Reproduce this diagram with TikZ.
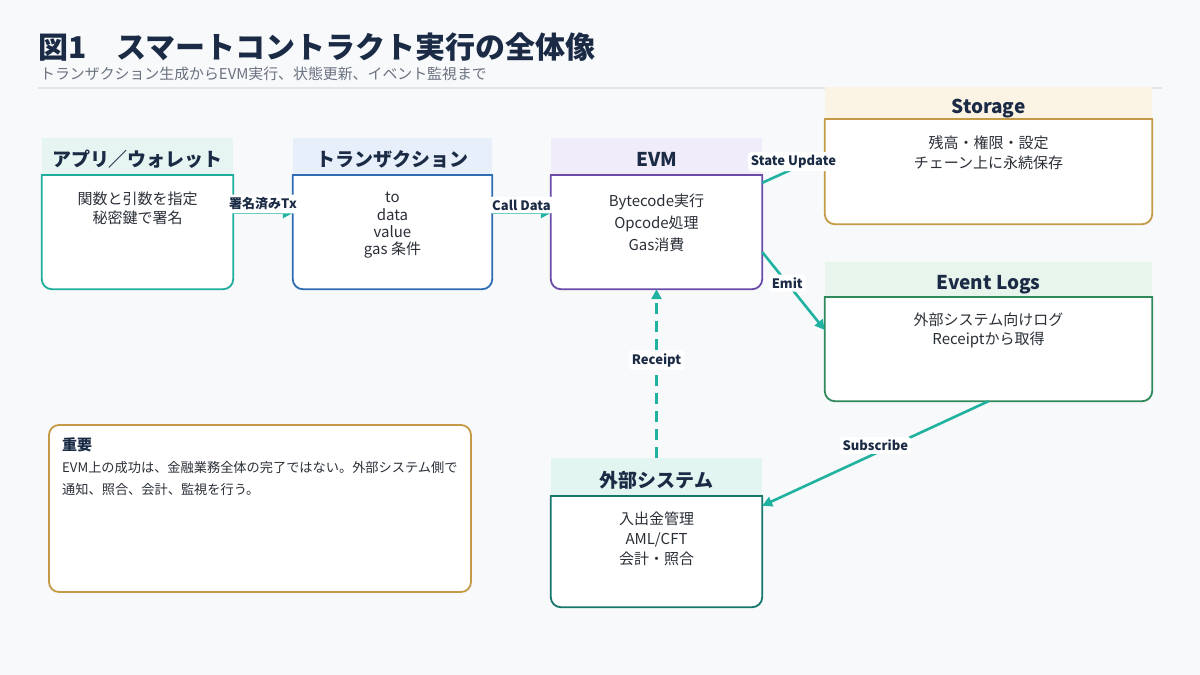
\documentclass[tikz,border=0pt]{standalone}
\usepackage{fontspec}
\setmainfont{Noto Sans CJK JP}
\usepackage{tikz}
\usetikzlibrary{arrows.meta,positioning}
\usepackage{xcolor}
\definecolor{canvas}{HTML}{F7F9FB}
\definecolor{navy}{HTML}{1B2B45}
\definecolor{ink}{HTML}{2A2F37}
\definecolor{muted}{HTML}{6B7280}
\definecolor{rule}{HTML}{E1E5EA}
\definecolor{flow}{HTML}{1FB2A0}
\definecolor{appc}{HTML}{1FAE9C}\definecolor{appbg}{HTML}{E6F5F1}
\definecolor{txc}{HTML}{2F6DB5}\definecolor{txbg}{HTML}{E7F0FA}
\definecolor{evmc}{HTML}{6A4CA8}\definecolor{evmbg}{HTML}{F1ECFA}
\definecolor{gold}{HTML}{C49A47}\definecolor{goldbg}{HTML}{FBF3E4}
\definecolor{logc}{HTML}{2E8A5A}\definecolor{logbg}{HTML}{E8F5EC}
\definecolor{extc}{HTML}{16766C}\definecolor{extbg}{HTML}{E3F5F0}
\newcommand{\fsz}[2]{\fontsize{#1pt}{#2pt}\selectfont}
\newcommand{\cardframe}[2]{\draw[#2,line width=1.8pt,fill=white,rounded corners=10pt] (#1.north west) -- (#1.south west) -- (#1.south east) -- (#1.north east);
\draw[#2,line width=1.8pt,line cap=rect] (#1.north west) -- (#1.north east);}
\tikzset{band/.style={fill=#1,inner sep=0pt,minimum height=37pt,text height=20pt,text depth=0pt,font=\fsz{19}{23}\bfseries,text=navy}, frame/.style={inner sep=0pt,minimum height=114pt}, bodytext/.style={inner sep=0pt,align=center,text=ink}, flowline/.style={draw=flow,line width=2.6pt,-{Triangle[length=10pt,width=10pt]}}, lbl/.style={fill=white,rounded corners=3pt,inner sep=3pt,font=\fsz{13}{15}\bfseries,text=navy}}

\begin{document}
\begin{tikzpicture}[x=1pt,y=-1pt]
\fill[canvas] (0,0) rectangle (1200,675);\useasboundingbox (0,0) rectangle (1200,675);
\node[anchor=west,inner sep=0pt,font=\fsz{30}{35}\bfseries,text=navy] (title) at (38,47) {図1　スマートコントラクト実行の全体像};
\node[anchor=west,inner sep=0pt,font=\fsz{14.9}{18},text=muted] (subtitle) at (40,74) {トランザクション生成からEVM実行、状態更新、イベント監視まで};
\draw[rule,line width=1.2pt] (38,88) -- (1162,88);
% upper row
\node[band=appbg,minimum width=191pt] (apphead) at (137.5,156.5) {アプリ／ウォレット};
\node[frame,minimum width=191pt] (app) at (137.5,232) {};\cardframe{app}{appc}
\node[bodytext,font=\fsz{15}{19},below=16pt of app.north] (apptxt) {\strut 関数と引数を指定\\秘密鍵で署名};
\node[band=txbg,minimum width=199pt] (txhead) at (392.5,156.5) {トランザクション};
\node[frame,minimum width=199pt] (tx) at (392.5,232) {};\cardframe{tx}{txc}
\node[bodytext,font=\fsz{15}{17},below=16pt of tx.north] (txtxt) {\strut to\\data\\value\\gas 条件};
\node[band=evmbg,minimum width=211pt] (evmhead) at (656.5,156.5) {EVM};
\node[frame,minimum width=211pt] (evm) at (656.5,232) {};\cardframe{evm}{evmc}
\node[bodytext,font=\fsz{15}{22},below=16pt of evm.north] (evmtxt) {\strut Bytecode実行\\Opcode処理\\Gas消費};
% right column
\node[band=goldbg,minimum width=327pt,minimum height=32pt] (sthead) at (988.5,103) {Storage};
\node[frame,minimum width=327pt,minimum height=105pt] (st) at (988.5,171.5) {};\cardframe{st}{gold}
\node[bodytext,font=\fsz{15}{20},below=15pt of st.north] (sttxt) {\strut 残高・権限・設定\\チェーン上に永続保存};
\node[band=logbg,minimum width=327pt,minimum height=35pt] (loghead) at (988.5,279.5) {Event Logs};
\node[frame,minimum width=327pt,minimum height=104pt] (log) at (988.5,349) {};\cardframe{log}{logc}
\node[bodytext,font=\fsz{15}{19},below=15pt of log.north] (logtxt) {\strut 外部システム向けログ\\Receiptから取得};
% bottom
\node[band=extbg,minimum width=211pt,minimum height=38pt] (exthead) at (656.5,477) {外部システム};
\node[frame,minimum width=211pt,minimum height=111pt] (ext) at (656.5,551.5) {};\cardframe{ext}{extc}
\node[bodytext,font=\fsz{15}{20},below=14pt of ext.north] (exttxt) {\strut 入出金管理\\AML/CFT\\会計・照合};
\node[draw=gold,line width=1.8pt,fill=white,rounded corners=10pt,minimum width=422pt,minimum height=167pt] (note) at (260,508.5) {};
\node[anchor=west,inner sep=0pt,font=\fsz{15}{18}\bfseries,text=navy] (notehead) at (62,445) {重要};
\node[anchor=north west,inner sep=0pt,align=left,font=\fsz{13.2}{22},text=ink] (notetxt) at (62,457) {\strut EVM上の成功は、金融業務全体の完了ではない。外部システム側で\\通知、照合、会計、監視を行う。};
% connectors
\draw[flowline] ([yshift=19pt]app.east) -- ([yshift=19pt]tx.west) node[lbl,midway,yshift=9pt] (l1) {署名済みTx};
\draw[flowline] ([yshift=19pt]tx.east) -- ([yshift=19pt]evm.west) node[lbl,midway,yshift=8pt] (l2) {Call Data};
\draw[flowline] ([yshift=-8pt]evm.north east) -- ([yshift=17pt]st.west) node[lbl,midway,yshift=7pt] (l3) {State Update};
\draw[flowline] ([yshift=-20pt]evm.east) -- ([yshift=19pt]log.west) node[lbl,pos=.4] (l4) {Emit};
\draw[flowline] (log.south) -- ([yshift=-10pt]ext.north east) node[lbl,pos=.5,yshift=8pt] (l5) {Subscribe};
\draw[flowline,dash pattern=on 11pt off 7pt] (exthead.north) -- (evm.south) node[lbl,pos=.58] (l6) {Receipt};
\end{tikzpicture}
\end{document}
